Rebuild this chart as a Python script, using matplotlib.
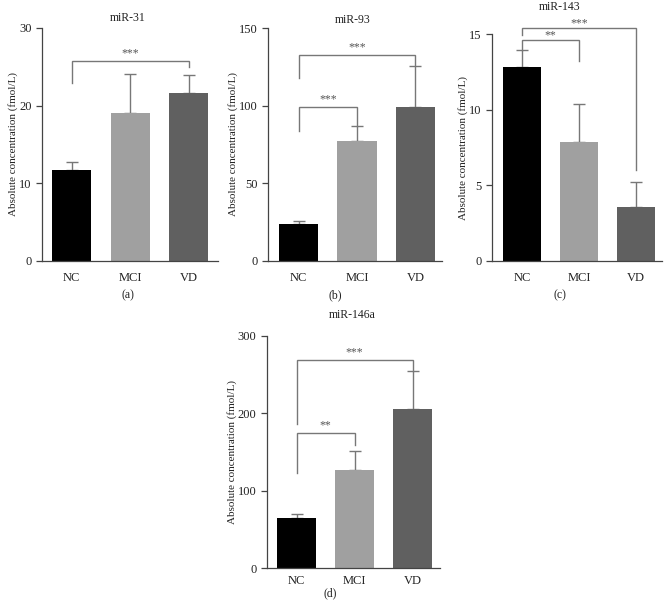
import matplotlib
matplotlib.use("Agg")
import matplotlib.pyplot as plt
from matplotlib.transforms import offset_copy

W, H = 671, 613
DPI = 100

groups = ["NC", "MCI", "VD"]
bar_colors = ["#000000", "#a0a0a0", "#606060"]

# panel (a) miR-31
mir31_mean = [11.7, 19.1, 21.6]
mir31_err = [1.0, 5.0, 2.4]
# panel (b) miR-93
mir93_mean = [23.5, 77.5, 99.5]
mir93_err = [1.9, 9.6, 26.4]
# panel (c) miR-143
mir143_mean = [12.86, 7.9, 3.57]
mir143_err = [1.08, 2.47, 1.68]
# panel (d) miR-146a
mir146a_mean = [64.5, 127.0, 205.0]
mir146a_err = [5.1, 24.7, 49.0]

# significance brackets: (left idx, right idx, bar height, left end, right end, label)
mir31_sig = [(0, 2, 25.75, 22.9, 25.0, "***")]
mir93_sig = [(0, 1, 99.0, 83.9, 87.0, "***"), (0, 2, 132.8, 117.7, 126.0, "***")]
mir143_sig = [(0, 1, 14.62, 13.94, 13.25, "**"), (0, 2, 15.4, 14.95, 6.0, "***")]
mir146a_sig = [(0, 1, 174.0, 123.0, 159.0, "**"), (0, 2, 268.6, 185.6, 254.0, "***")]

panels = [
    dict(title="miR-31", label="(a)", mean=mir31_mean, err=mir31_err, sig=mir31_sig,
         ymax=30, step=10, box=(42, 218, 28, 261), xlim=(-0.51, 2.5),
         title_xy=(128, 18), label_xy=(128, 295), star_off=5, xpad=8),
    dict(title="miR-93", label="(b)", mean=mir93_mean, err=mir93_err, sig=mir93_sig,
         ymax=150, step=50, box=(267.7, 441.7, 28.3, 260.7), xlim=(-0.53, 2.45),
         title_xy=(353, 20), label_xy=(335, 295), star_off=5, xpad=8),
    dict(title="miR-143", label="(c)", mean=mir143_mean, err=mir143_err, sig=mir143_sig,
         ymax=15, step=5, box=(491.7, 661.7, 34.3, 261), xlim=(-0.535, 2.45),
         title_xy=(560, 7), label_xy=(560, 295), star_off=2, xpad=8),
    dict(title="miR-146a", label="(d)", mean=mir146a_mean, err=mir146a_err, sig=mir146a_sig,
         ymax=300, step=100, box=(266.7, 440, 335.7, 568.3), xlim=(-0.517, 2.47),
         title_xy=(352, 315), label_xy=(330, 593), star_off=5, xpad=5),
]

plt.rcParams["font.family"] = ["Liberation Serif", "DejaVu Serif"]
fig = plt.figure(figsize=(W / DPI, H / DPI), dpi=DPI)
fig.patch.set_facecolor("white")

axis_col = "#444444"
line_col = "#777777"

for p in panels:
    l, r, t, b = p["box"]
    ax = fig.add_axes([l / W, 1 - b / H, (r - l) / W, (b - t) / H])
    x = list(range(len(groups)))
    ax.bar(x, p["mean"], width=0.67, color=bar_colors, edgecolor="none", zorder=2)
    ax.errorbar(x, p["mean"], yerr=[[0] * 3, p["err"]], fmt="none", ecolor=line_col,
                elinewidth=1.0, capsize=4.5, capthick=1.0, zorder=1)
    ax.set_xlim(*p["xlim"])
    ax.set_ylim(0, p["ymax"])
    ax.set_yticks(range(0, p["ymax"] + 1, p["step"]))
    ax.set_xticks(x)
    ax.set_xticklabels(groups)
    for s in ["top", "right"]:
        ax.spines[s].set_visible(False)
    for s in ["left", "bottom"]:
        ax.spines[s].set_color(axis_col)
        ax.spines[s].set_linewidth(0.9)
    ax.tick_params(axis="both", colors=axis_col, labelcolor="#222222", labelsize=9,
                   length=4, width=0.9, direction="out")
    ax.tick_params(axis="x", length=0, pad=p["xpad"])
    ax.set_ylabel("Absolute concentration (fmol/L)", fontsize=8, color="#222222", labelpad=0.5)
    for (i, j, y, yl, yr, txt) in p["sig"]:
        ax.plot([i, i, j, j], [yl, y, y, yr], color=line_col, lw=1.0, clip_on=False,
                solid_joinstyle="miter", zorder=3)
        tr = offset_copy(ax.transData, fig=fig, x=0, y=p["star_off"], units="dots")
        ax.text((i + j) / 2, y, txt, transform=tr, ha="center", va="baseline",
                fontsize=8.5, color="#555555")
    fig.text(p["title_xy"][0] / W, 1 - p["title_xy"][1] / H, p["title"],
             ha="center", va="center", fontsize=8.5, color="#222222")
    fig.text(p["label_xy"][0] / W, 1 - p["label_xy"][1] / H, p["label"],
             ha="center", va="center", fontsize=8.5, color="#222222")

fig.savefig("out.png", dpi=DPI, facecolor="white")
